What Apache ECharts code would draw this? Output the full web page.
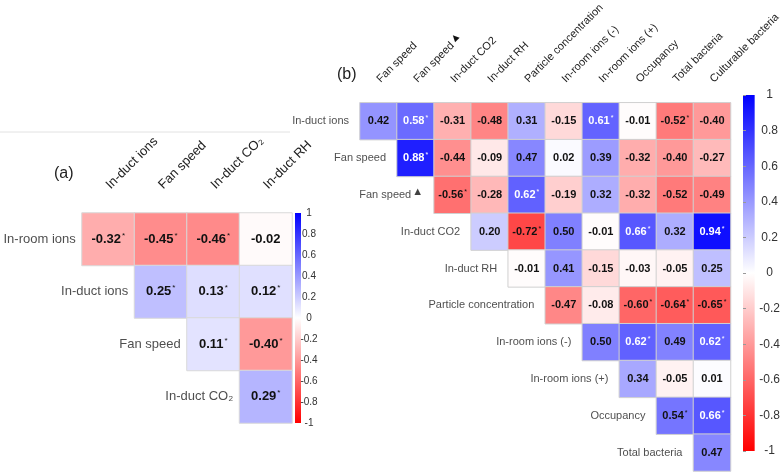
<!DOCTYPE html>
<html><head><meta charset="utf-8">
<script src="https://cdn.jsdelivr.net/npm/echarts@6/dist/echarts.min.js"></script>
<style>html,body{margin:0;padding:0;background:#fff}#c{width:783px;height:475px}</style>
</head><body><div id="c"></div>
<script>
// ---------- Panel (a) data ----------
const colsA = ['In-duct ions', 'Fan speed', 'In-duct CO₂', 'In-duct RH'];
const rowsA = ['In-room ions', 'In-duct ions', 'Fan speed', 'In-duct CO₂'];
const valsA = [
  [-0.32, -0.45, -0.46, -0.02],
  [null, 0.25, 0.13, 0.12],
  [null, null, 0.11, -0.40],
  [null, null, null, 0.29]
];
const sigA = [
  [1, 1, 1, 0],
  [0, 1, 1, 1],
  [0, 0, 1, 1],
  [0, 0, 0, 1]
];
// ---------- Panel (b) data ----------
const colsB = ['Fan speed', 'Fan speed▲', 'In-duct CO2', 'In-duct RH', 'Particle concentration',
  'In-room ions (-)', 'In-room ions (+)', 'Occupancy', 'Total bacteria', 'Culturable bacteria'];
const rowsB = ['In-duct ions', 'Fan speed', 'Fan speed▲', 'In-duct CO2', 'In-duct RH',
  'Particle concentration', 'In-room ions (-)', 'In-room ions (+)', 'Occupancy', 'Total bacteria'];
const valsB = [
  [0.42, 0.58, -0.31, -0.48, 0.31, -0.15, 0.61, -0.01, -0.52, -0.40],
  [null, 0.88, -0.44, -0.09, 0.47, 0.02, 0.39, -0.32, -0.40, -0.27],
  [null, null, -0.56, -0.28, 0.62, -0.19, 0.32, -0.32, -0.52, -0.49],
  [null, null, null, 0.20, -0.72, 0.50, -0.01, 0.66, 0.32, 0.94],
  [null, null, null, null, -0.01, 0.41, -0.15, -0.03, -0.05, 0.25],
  [null, null, null, null, null, -0.47, -0.08, -0.60, -0.64, -0.65],
  [null, null, null, null, null, null, 0.50, 0.62, 0.49, 0.62],
  [null, null, null, null, null, null, null, 0.34, -0.05, 0.01],
  [null, null, null, null, null, null, null, null, 0.54, 0.66],
  [null, null, null, null, null, null, null, null, null, 0.47]
];
const sigB = [
  [0, 1, 0, 0, 0, 0, 1, 0, 1, 0],
  [0, 1, 0, 0, 0, 0, 0, 0, 0, 0],
  [0, 0, 1, 0, 1, 0, 0, 0, 0, 0],
  [0, 0, 0, 0, 1, 0, 0, 1, 0, 1],
  [0, 0, 0, 0, 0, 0, 0, 0, 0, 0],
  [0, 0, 0, 0, 0, 0, 0, 1, 1, 1],
  [0, 0, 0, 0, 0, 0, 0, 1, 0, 1],
  [0, 0, 0, 0, 0, 0, 0, 0, 0, 0],
  [0, 0, 0, 0, 0, 0, 0, 0, 1, 1],
  [0, 0, 0, 0, 0, 0, 0, 0, 0, 0]
];
const colorTicks = [-1, 1, 0.2]; // min, max, interval of colour scale

// ---------- build ----------
const FONT = '"Liberation Sans", Arial, sans-serif';
function cells(vals, sig) {
  const out = [];
  vals.forEach((row, r) => row.forEach((v, c) => {
    if (v !== null) out.push({ value: [c, r, v], sig: sig[r][c] });
  }));
  return out;
}
function tri(s) { return s.replace('▲', '{t|▲}'); }
function cellLabel(p) {
  const v = p.value[2];
  const w = v > 0.56 ? 'w' : '';
  return '{v' + w + '|' + v.toFixed(2) + '}' + (p.data.sig ? '{s' + w + '|*}' : '');
}
function richVals(fs) {
  return {
    v: { fontSize: fs, fontWeight: 'bold', color: '#111', fontFamily: FONT },
    vw: { fontSize: fs, fontWeight: 'bold', color: '#fff', fontFamily: FONT },
    s: { fontSize: Math.round(fs * 0.62), color: '#111', verticalAlign: 'top', padding: [0, 0, Math.round(fs * 0.5), 1] },
    sw: { fontSize: Math.round(fs * 0.62), color: '#fff', verticalAlign: 'top', padding: [0, 0, Math.round(fs * 0.5), 1] }
  };
}
const triRich = fs => ({ t: { fontSize: fs, color: '#111', padding: [0, 0, 5, 1] } });

const chart = echarts.init(document.getElementById('c'), null, { renderer: 'canvas' });
const cbGrad = new echarts.graphic.LinearGradient(0, 0, 0, 1, [
  { offset: 0, color: '#0000ff' }, { offset: 0.5, color: '#ffffff' }, { offset: 1, color: '#ff0000' }]);

const option = {
  backgroundColor: '#fff',
  textStyle: { fontFamily: FONT },
  animation: false,
  grid: [
    { left: 82, top: 213, width: 210, height: 210 },
    { left: 360, top: 94, width: 376, height: 377 },
    { left: 295, top: 213, width: 6, height: 210, show: true, backgroundColor: cbGrad, borderWidth: 0 },
    { left: 743, top: 95, width: 13, height: 356, show: true, backgroundColor: cbGrad, borderWidth: 0 }
  ],
  xAxis: [
    { type: 'category', gridIndex: 0, data: colsA, position: 'top',
      axisLine: { show: false }, axisTick: { show: false }, splitLine: { show: false },
      axisLabel: { rotate: -45, margin: 26, fontSize: 13, color: '#222', interval: 0 } },
    { type: 'category', gridIndex: 1, data: colsB, position: 'top',
      axisLine: { show: false }, axisTick: { show: false }, splitLine: { show: false },
      axisLabel: { rotate: -45, margin: 22, fontSize: 11, color: '#222', interval: 0,
        formatter: tri, rich: triRich(11) } },
    { type: 'value', gridIndex: 2, show: false },
    { type: 'value', gridIndex: 3, show: false }
  ],
  yAxis: [
    { type: 'category', gridIndex: 0, data: rowsA, inverse: true, show: false },
    { type: 'category', gridIndex: 1, data: rowsB, inverse: true, show: false },
    { type: 'value', gridIndex: 2, position: 'right', min: colorTicks[0], max: colorTicks[1], interval: colorTicks[2],
      axisLine: { show: false }, axisTick: { show: false }, splitLine: { show: false },
      axisLabel: { align: 'center', margin: 8, fontSize: 10, color: '#333' } },
    { type: 'value', gridIndex: 3, position: 'right', min: colorTicks[0], max: colorTicks[1], interval: colorTicks[2],
      axisLine: { show: false }, axisTick: { show: true, length: 3, lineStyle: { color: '#999' } }, splitLine: { show: false },
      axisLabel: { align: 'center', margin: 15, fontSize: 12, color: '#333' } }
  ],
  visualMap: [
    { show: false, type: 'continuous', seriesIndex: 0, dimension: 2, min: -1, max: 1,
      inRange: { color: ['#ff0000', '#ffffff', '#0000ff'] } },
    { show: false, type: 'continuous', seriesIndex: 1, dimension: 2, min: -1, max: 1,
      inRange: { color: ['#ff0000', '#ffffff', '#0000ff'] } }
  ],
  series: [
    { type: 'heatmap', xAxisIndex: 0, yAxisIndex: 0, data: cells(valsA, sigA),
      itemStyle: { borderColor: '#d9d9d9', borderWidth: 1 },
      label: { show: true, formatter: cellLabel, rich: richVals(13) } },
    { type: 'heatmap', xAxisIndex: 1, yAxisIndex: 1, data: cells(valsB, sigB),
      itemStyle: { borderColor: '#d0d0d0', borderWidth: 1 },
      label: { show: true, formatter: cellLabel, rich: richVals(11) } },
    { type: 'scatter', xAxisIndex: 0, yAxisIndex: 0, symbolSize: 1, itemStyle: { color: 'rgba(0,0,0,0)' }, silent: true,
      data: rowsA.map((r, i) => [i, i]),
      label: { show: true, position: 'left', distance: 32, fontSize: 13, color: '#222',
        formatter: p => rowsA[p.dataIndex] } },
    { type: 'scatter', xAxisIndex: 1, yAxisIndex: 1, symbolSize: 1, itemStyle: { color: 'rgba(0,0,0,0)' }, silent: true,
      data: rowsB.map((r, i) => [i, i]),
      label: { show: true, position: 'left', distance: 29, fontSize: 11, color: '#222',
        formatter: p => tri(rowsB[p.dataIndex]), rich: triRich(11) } }
  ],
  graphic: [
    { type: 'line', shape: { x1: 0, y1: 132, x2: 290, y2: 132 }, style: { stroke: '#e2e2e2', lineWidth: 1 } },
    { type: 'text', left: 54, top: 166, style: { text: '(a)', fontSize: 16, fill: '#222', fontFamily: FONT } },
    { type: 'text', left: 337, top: 67, style: { text: '(b)', fontSize: 16, fill: '#222', fontFamily: FONT } }
  ]
};
chart.setOption(option);
</script></body></html>
